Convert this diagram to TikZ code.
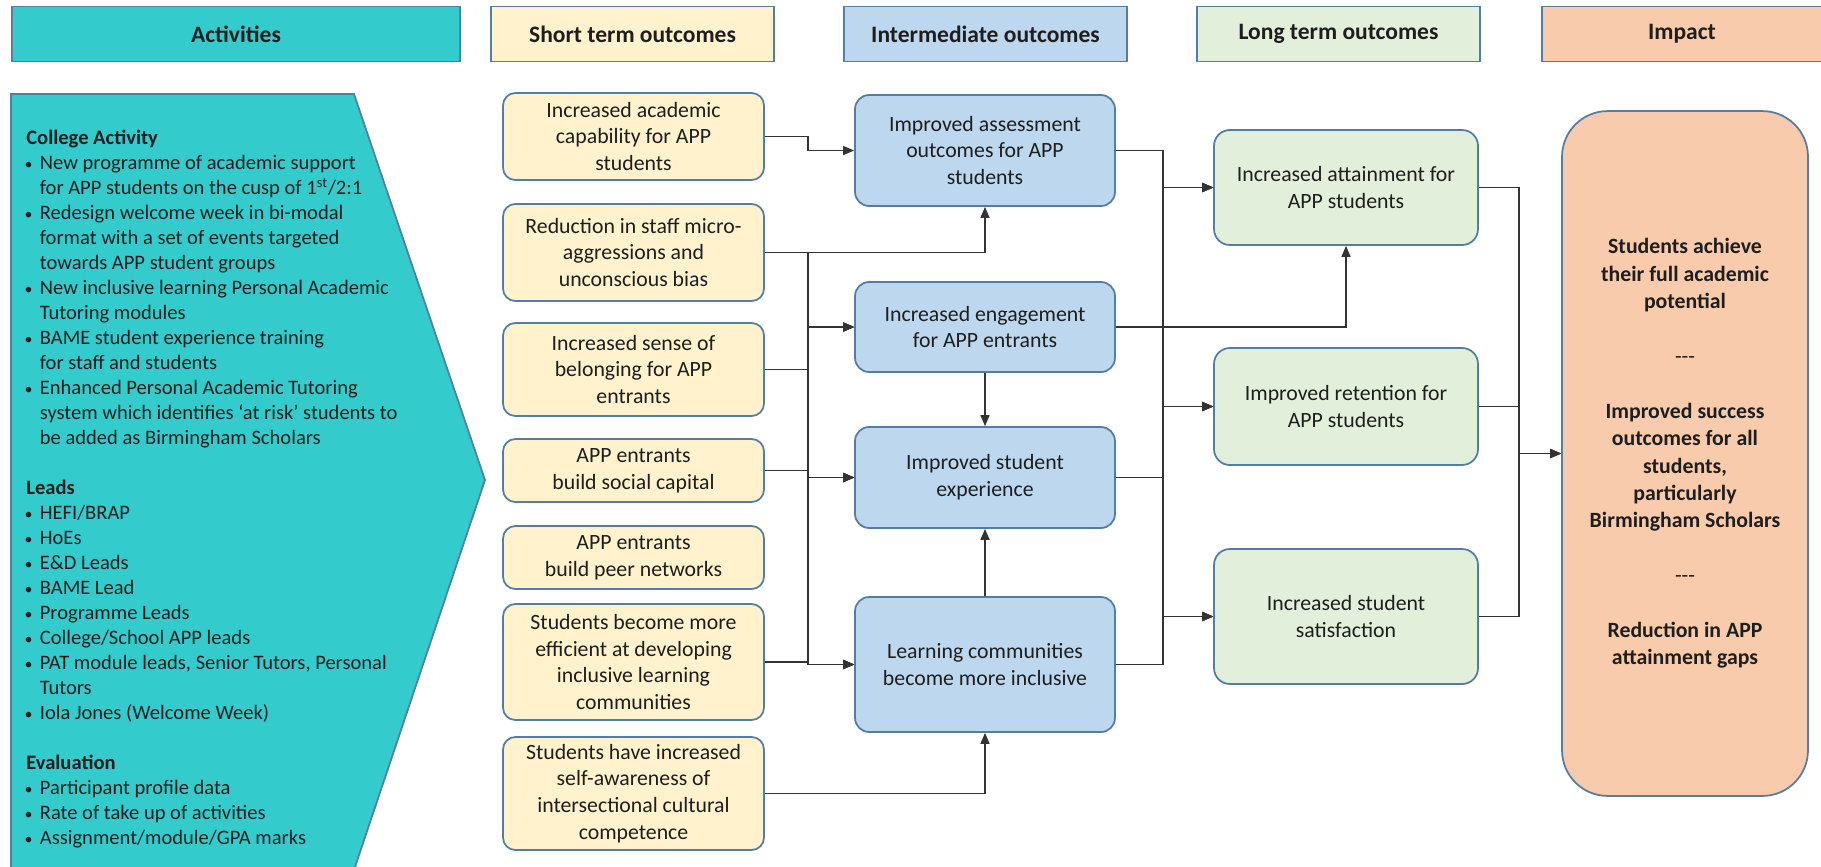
\documentclass[tikz,border=0pt]{standalone}
\usepackage{fontspec}
\setmainfont{Carlito}
\usepackage{xcolor}
\usepackage{tikz}
\usetikzlibrary{arrows.meta}
\definecolor{actfill}{RGB}{51,203,204}
\definecolor{stfill}{RGB}{255,242,204}
\definecolor{imfill}{RGB}{189,215,238}
\definecolor{ltfill}{RGB}{226,239,218}
\definecolor{impfill}{RGB}{248,203,173}
\definecolor{rim}{RGB}{84,125,165}
\definecolor{ink}{RGB}{30,30,30}
\newcommand{\tridash}{-\kern0pt-\kern0pt-}
\newcommand{\bul}{\hspace*{-1pt}{\fontsize{9}{9}\selectfont•}}

\begin{document}
\begin{tikzpicture}[x=0.02cm,y=-0.02cm,
 head/.style={draw=rim,line width=1pt,minimum height=1.1cm,text=ink,font=\fontsize{13.4}{15}\selectfont\bfseries},
 box/.style={draw=rim,line width=1pt,rounded corners=7pt,align=center,text=ink,font=\fontsize{12.4}{15.2}\selectfont},
 stbox/.style={box,fill=stfill,minimum width=5.22cm},
 imbox/.style={box,fill=imfill,minimum width=5.2cm,rounded corners=8pt},
 ltbox/.style={box,fill=ltfill,minimum width=5.28cm,rounded corners=9pt},
 link/.style={draw=black!80,line width=0.75pt},
 arr/.style={link,-{Triangle[length=2.2mm,width=1.8mm]}}]
\useasboundingbox(0,0)rectangle(1821,866);
\node[head,fill=actfill,minimum width=8.96cm](hAct)at(236,34){Activities};
\node[head,fill=stfill,minimum width=5.66cm](hST)at(632.5,34){Short term outcomes};
\node[head,fill=imfill,minimum width=5.66cm](hIM)at(985.5,34){Intermediate outcomes};
\node[head,fill=ltfill,minimum width=5.66cm](hLT)at(1338.5,34){Long term outcomes};
\node[head,fill=impfill,minimum width=5.6cm](hImp)at(1682,34){Impact};
\draw[draw=rim,line width=1pt,fill=actfill](11,94)--(354,94)--(485,480)--(354,870)--(11,870)--cycle;
\node[anchor=north west,inner sep=0pt,text=ink,font=\fontsize{11.7}{14.23}\selectfont](acts)at(26,127){%
\begin{tabular}{@{}p{0.27cm}@{}l@{}}
\multicolumn{2}{@{}l@{}}{\textbf{College Activity}}\\
\bul&New programme of academic support\\
&for APP students on the cusp of 1\textsuperscript{st}/2:1\\
\bul&Redesign welcome week in bi-modal\\
&format with a set of events targeted\\
&towards APP student groups\\
\bul&New inclusive learning Personal Academic\\
&Tutoring modules\\
\bul&BAME student experience training\\
&for staff and students\\
\bul&Enhanced Personal Academic Tutoring\\
&system which identifies ‘at risk’ students to\\
&be added as Birmingham Scholars\\
&\\
\multicolumn{2}{@{}l@{}}{\textbf{Leads}}\\
\bul&HEFI/BRAP\\
\bul&HoEs\\
\bul&E\&D Leads\\
\bul&BAME Lead\\
\bul&Programme Leads\\
\bul&College/School APP leads\\
\bul&PAT module leads, Senior Tutors, Personal\\
&Tutors\\
\bul&Iola Jones (Welcome Week)\\
&\\
\multicolumn{2}{@{}l@{}}{\textbf{Evaluation}}\\
\bul&Participant profile data\\
\bul&Rate of take up of activities\\
\bul&Assignment/module/GPA marks
\end{tabular}};
\node[stbox,minimum height=1.74cm](Y1)at(633.5,136.5){Increased academic\\capability for APP\\students};
\node[stbox,minimum height=1.94cm](Y2)at(633.5,252.5){Reduction in staff micro-\\aggressions and\\unconscious bias};
\node[stbox,minimum height=1.86cm](Y3)at(633.5,369.5){Increased sense of\\belonging for APP\\entrants};
\node[stbox,minimum height=1.26cm](Y4)at(633.5,470.5){APP entrants\\build social capital};
\node[stbox,minimum height=1.26cm](Y5)at(633.5,557.5){APP entrants\\build peer networks};
\node[stbox,minimum height=2.32cm](Y6)at(633.5,662){Students become more\\efficient at developing\\inclusive learning\\communities};
\node[stbox,minimum height=2.26cm](Y7)at(633.5,793.5){Students have increased\\self-awareness of\\intersectional cultural\\competence};
\node[imbox,minimum height=2.22cm](B1)at(985,150.5){Improved assessment\\outcomes for APP\\students};
\node[imbox,minimum height=1.8cm](B2)at(985,327){Increased engagement\\for APP entrants};
\node[imbox,minimum height=2.02cm](B3)at(985,477.5){Improved student\\experience};
\node[imbox,minimum height=2.7cm](B4)at(985,664.5){Learning communities\\become more inclusive};
\node[ltbox,minimum height=2.3cm](L1)at(1346,187.5){Increased attainment for\\APP students};
\node[ltbox,minimum height=2.34cm](L2)at(1346,406.5){Improved retention for\\APP students};
\node[ltbox,minimum height=2.7cm](L3)at(1346,616.5){Increased student\\satisfaction};
\node[box,fill=impfill,minimum width=4.92cm,minimum height=13.7cm,rounded corners=26pt,font=\fontsize{12.4}{15.6}\selectfont\bfseries](Imp)at(1685,453.5){Students achieve\\their full academic\\potential\\[15.6pt]{\mdseries\tridash}\\[15.6pt]Improved success\\outcomes for all\\students,\\particularly\\Birmingham Scholars\\[15.6pt]{\mdseries\tridash}\\[15.6pt]Reduction in APP\\attainment gaps};
\coordinate(t1)at(808,0);
\coordinate(t2)at(1163,0);
\coordinate(t3)at(1519,0);
\draw[arr](Y1.east)--(Y1.east-|t1)|-(B1.west);
\draw[arr](Y2.east)-|(B1.south);
\foreach \s in {Y2,Y3,Y4,Y6}\foreach \t in {B2,B3,B4}\draw[arr](\s.east)--(\s.east-|t1)|-(\t.west);
\draw[arr](Y7.east)-|(B4.south);
\draw[arr](B2.south)--(B3.north);
\draw[arr](B4.north)--(B3.south);
\foreach \s in {B1,B2,B3,B4}\foreach \t in {L1,L2,L3}\draw[arr](\s.east)--(\s.east-|t2)|-(\t.west);
\draw[arr](B2.east)-|(L1.south);
\foreach \s in {L1,L2,L3}\draw[arr](\s.east)--(\s.east-|t3)|-(Imp.west);
\end{tikzpicture}
\end{document}
